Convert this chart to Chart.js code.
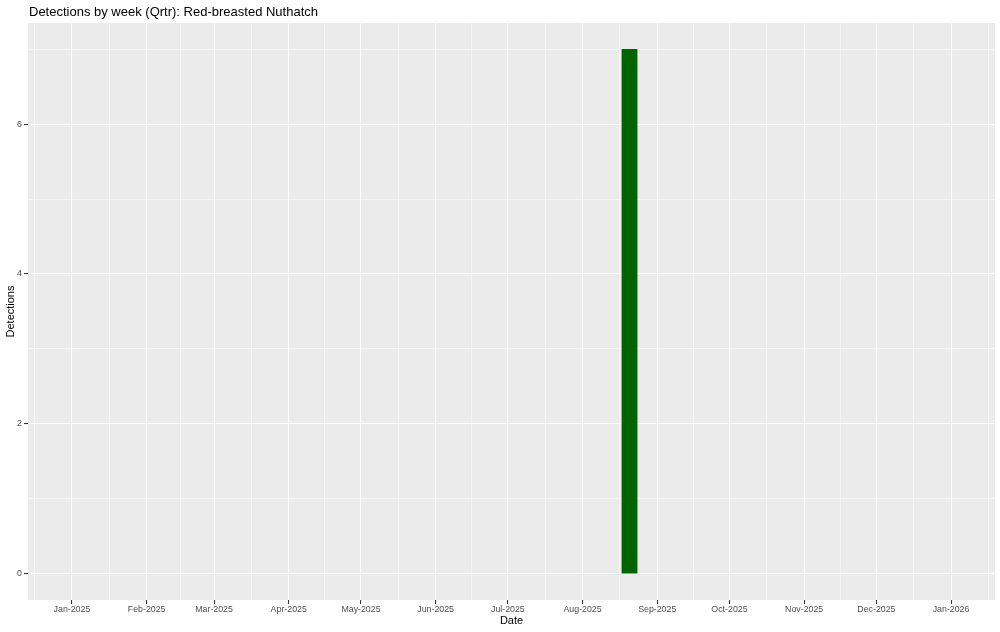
<!DOCTYPE html>
<html><head><meta charset="utf-8">
<script src="https://cdn.jsdelivr.net/npm/chart.js@4.4.1/dist/chart.umd.min.js"></script>
<style>html,body{margin:0;padding:0;background:#fff;overflow:hidden}#wrap{width:1000px;height:632px}</style>
</head><body><div id="wrap"><canvas id="c" width="1000" height="632"></canvas></div>
<script>
// ---- data ----
const chartTitle = 'Detections by week (Qrtr): Red-breasted Nuthatch';
const xTitle = 'Date';
const yTitle = 'Detections';
const weekStarts = ['2025-08-17'];
const detections = [7];
const binDays = 7;
const monthStarts = ['2024-12-01','2025-01-01','2025-02-01','2025-03-01','2025-04-01','2025-05-01','2025-06-01','2025-07-01','2025-08-01','2025-09-01','2025-10-01','2025-11-01','2025-12-01','2026-01-01','2026-02-01'];
const monthLabels = ['Dec-2024','Jan-2025','Feb-2025','Mar-2025','Apr-2025','May-2025','Jun-2025','Jul-2025','Aug-2025','Sep-2025','Oct-2025','Nov-2025','Dec-2025','Jan-2026','Feb-2026'];
const xDataLimits = ['2025-01-01','2026-01-01'];
const yTicks = [0,2,4,6];
const yDataLimits = [0,7];

// ---- helpers ----
const FONT = "'Liberation Sans', Arial, Helvetica, sans-serif";
const ORIGIN = Date.parse('2025-01-01T00:00:00Z');
const toDay = s => (Date.parse(s + 'T00:00:00Z') - ORIGIN) / 86400000;
const xl0 = toDay(xDataLimits[0]), xl1 = toDay(xDataLimits[1]);
const xPad = (xl1 - xl0) * 0.05;
const xMin = xl0 - xPad, xMax = xl1 + xPad;
const yPad = (yDataLimits[1] - yDataLimits[0]) * 0.05;
const yMin = yDataLimits[0] - yPad, yMax = yDataLimits[1] + yPad;

const xTickObjs = [];
monthStarts.forEach((m, i) => {
  const d = toDay(m);
  if (d >= xMin && d <= xMax) xTickObjs.push({value: d, isMajor: true, lbl: monthLabels[i]});
  if (i < monthStarts.length - 1) {
    const mid = (d + toDay(monthStarts[i+1])) / 2;
    if (mid >= xMin && mid <= xMax) xTickObjs.push({value: mid, isMajor: false, lbl: ''});
  }
});
xTickObjs.sort((a,b) => a.value - b.value);

const yTickObjs = [];
const yStep = yTicks[1] - yTicks[0];
const yAll = [yTicks[0] - yStep, ...yTicks, yTicks[yTicks.length-1] + yStep];
yAll.forEach((v, i) => {
  if (yTicks.includes(v)) yTickObjs.push({value: v, isMajor: true, lbl: String(v)});
  if (i < yAll.length - 1) {
    const mid = (v + yAll[i+1]) / 2;
    if (mid >= yMin && mid <= yMax) yTickObjs.push({value: mid, isMajor: false, lbl: ''});
  }
});
yTickObjs.sort((a,b) => a.value - b.value);

const isMaj = c => c.tick && c.tick.isMajor;

const decor = {
  id: 'decor',
  afterLayout(chart) {
    const s = chart.scales.x;
    const w = s.getPixelForValue(binDays * 0.9) - s.getPixelForValue(0);
    chart.data.datasets[0].barThickness = w;
  },
  beforeDraw(chart) {
    const {ctx, chartArea: a} = chart;
    ctx.save();
    ctx.fillStyle = '#ffffff';
    ctx.fillRect(0, 0, chart.width, chart.height);
    ctx.fillStyle = '#EBEBEB';
    ctx.fillRect(a.left, a.top, a.right - a.left, a.bottom - a.top);
    ctx.restore();
  },
  afterDraw(chart) {
    const {ctx, chartArea: a} = chart;
    ctx.save();
    ctx.fillStyle = '#000000';
    ctx.font = '13px ' + FONT;
    ctx.textAlign = 'left';
    ctx.textBaseline = 'alphabetic';
    ctx.fillText(chartTitle, a.left + 1, 15.5);
    ctx.font = '11px ' + FONT;
    ctx.textAlign = 'center';
    ctx.textBaseline = 'middle';
    ctx.fillText(xTitle, (a.left + a.right) / 2, 620.5);
    ctx.translate(10.5, (a.top + a.bottom) / 2);
    ctx.rotate(-Math.PI / 2);
    ctx.fillText(yTitle, 0, 0);
    ctx.restore();
  }
};

new Chart(document.getElementById('c'), {
  type: 'bar',
  data: {
    datasets: [{
      data: weekStarts.map((w, i) => ({x: toDay(w) + binDays / 2, y: detections[i]})),
      backgroundColor: '#006400',
      borderWidth: 0,
      categoryPercentage: 1,
      barPercentage: 1
    }]
  },
  options: {
    responsive: false,
    animation: false,
    devicePixelRatio: 1,
    layout: {padding: {top: 23, right: 5, left: 0, bottom: 0}},
    plugins: {legend: {display: false}, tooltip: {enabled: false}, title: {display: false}},
    scales: {
      x: {
        type: 'linear', min: xMin, max: xMax, offset: false,
        afterBuildTicks: s => { s.ticks = xTickObjs.map(t => ({...t})); },
        afterFit: s => { s.height = 32; s.paddingLeft = 0; s.paddingRight = 0; },
        border: {display: false},
        grid: {
          offset: false, color: '#FFFFFF', drawTicks: true, tickLength: 4,
          lineWidth: c => isMaj(c) ? 1.07 : 0.53,
          tickColor: c => isMaj(c) ? '#333333' : 'rgba(0,0,0,0)',
          tickWidth: 1.07
        },
        ticks: {
          autoSkip: false, maxRotation: 0, minRotation: 0, padding: 0,
          color: '#4D4D4D', font: {family: FONT, size: 8.8},
          callback: (v, i, ticks) => ticks[i] && ticks[i].lbl ? ticks[i].lbl : ''
        }
      },
      y: {
        type: 'linear', min: yMin, max: yMax,
        afterBuildTicks: s => { s.ticks = yTickObjs.map(t => ({...t})); },
        afterFit: s => { s.width = 28; },
        border: {display: false},
        grid: {
          color: '#FFFFFF', drawTicks: true, tickLength: 4,
          lineWidth: c => isMaj(c) ? 1.07 : 0.53,
          tickColor: c => isMaj(c) ? '#333333' : 'rgba(0,0,0,0)',
          tickWidth: 1.07
        },
        ticks: {
          autoSkip: false, padding: 2,
          color: '#4D4D4D', font: {family: FONT, size: 8.8},
          callback: (v, i, ticks) => ticks[i] && ticks[i].lbl ? ticks[i].lbl : ''
        }
      }
    }
  },
  plugins: [decor]
});
</script>
</body></html>
